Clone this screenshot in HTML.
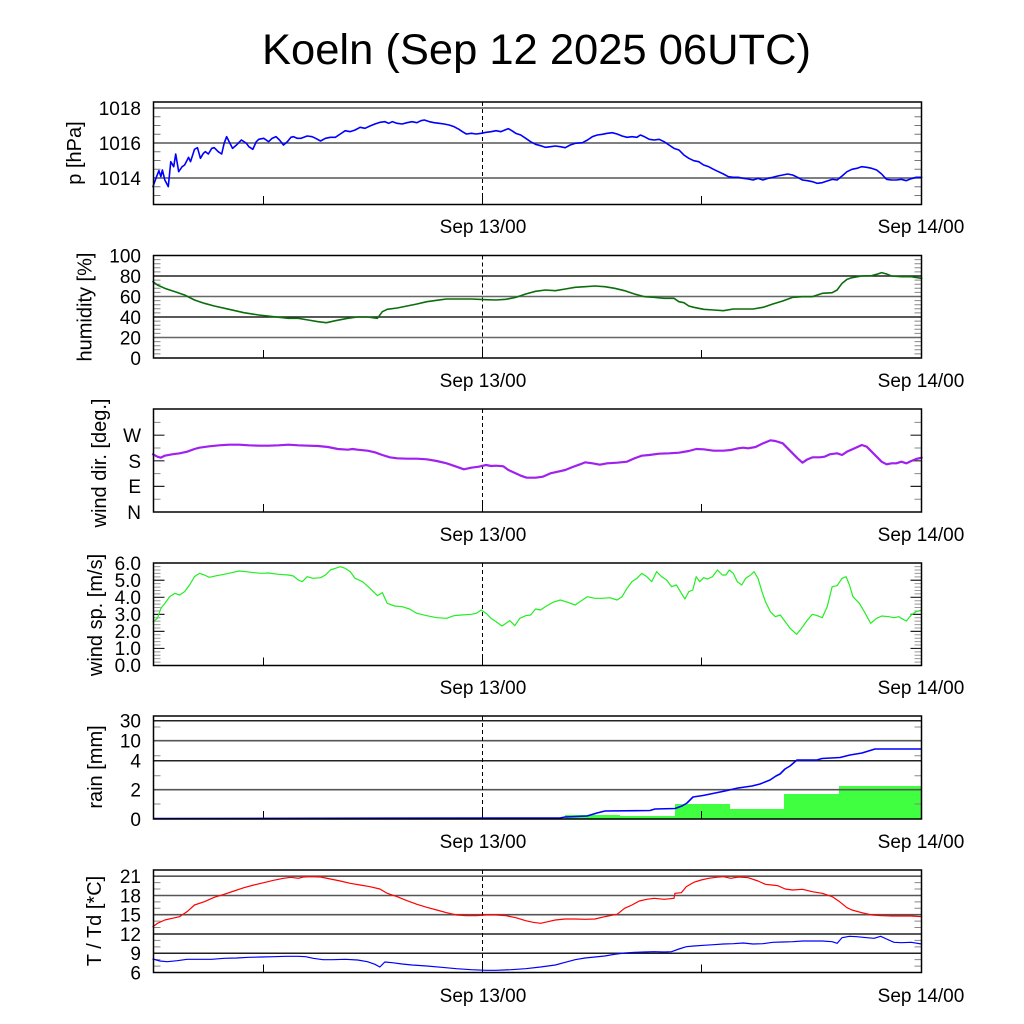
<!DOCTYPE html>
<html><head><meta charset="utf-8">
<style>
html,body{margin:0;padding:0;background:#fff;}
svg{display:block;}
text{font-family:"Liberation Sans",Arial,sans-serif;fill:#000;}
.yl{font-size:19px;text-anchor:end;}
.xl{font-size:19px;text-anchor:middle;}
.al{font-size:20px;text-anchor:middle;}
.c{fill:none;vector-effect:non-scaling-stroke;stroke-linejoin:round;stroke-linecap:round;}
</style></head>
<body>
<svg width="1024" height="1024" viewBox="0 0 1024 1024" xmlns="http://www.w3.org/2000/svg">
<rect width="1024" height="1024" fill="#fff"/>
<text x="262" y="64" font-size="43" textLength="549" lengthAdjust="spacingAndGlyphs">Koeln (Sep 12 2025 06UTC)</text>

<!-- ===== Panel 1: pressure ===== -->
<g>
<path d="M153.5 108H921.5M153.5 143H921.5M153.5 178H921.5" stroke="#555" stroke-width="1.6"/>
<path d="M153.5 116.75h7M153.5 125.5h7M153.5 134.25h7M153.5 151.75h7M153.5 160.5h7M153.5 169.25h7M153.5 186.75h7M153.5 195.5h7M921.5 116.75h-7M921.5 125.5h-7M921.5 134.25h-7M921.5 151.75h-7M921.5 160.5h-7M921.5 169.25h-7M921.5 186.75h-7M921.5 195.5h-7" stroke="#777" stroke-width="1"/>
<path d="M263.5 204v-8M701.5 204v-8M482.5 204v-8" stroke="#000" stroke-width="1"/>
<path d="M482.5 102V204" stroke="#000" stroke-width="1" stroke-dasharray="4 3"/>
<g transform="translate(150,100) scale(0.49432,0.33333)">
<polyline class="c" stroke="#0000ff" stroke-width="1.6" points="6,260 12,235 18,212 22,230 25,210 30,240 37,260 42,185 48,200 52,162 58,215 65,200 70,195 78,172 82,185 90,148 96,143 102,175 108,160 112,155 118,162 125,145 130,143 138,155 145,162 150,130 155,110 160,125 167,145 175,135 185,120 195,130 200,140 208,148 215,125 220,118 230,115 235,120 240,125 247,115 255,110 262,120 270,135 278,125 285,112 290,110 298,115 305,115 318,108 328,110 335,115 345,123 355,115 365,112 375,112 385,102 395,92 405,95 415,90 425,82 435,85 445,78 455,72 465,67 475,65 483,70 490,65 500,70 510,72 520,68 530,65 540,68 548,62 555,60 565,65 575,68 585,70 595,72 605,75 615,80 625,88 632,95 640,102 650,100 660,102 670,100 680,97 690,95 700,92 710,95 718,90 725,86 732,92 740,100 750,105 760,115 770,125 780,133 790,137 800,142 810,140 820,138 830,140 840,143 850,135 860,130 875,128 885,120 895,110 905,105 915,103 925,100 935,98 945,102 955,108 965,112 975,110 985,112 992,105 1000,110 1010,118 1020,120 1030,118 1040,125 1050,135 1060,145 1070,150 1080,165 1090,175 1100,182 1110,185 1120,195 1130,200 1140,208 1150,215 1160,222 1170,230 1180,232 1190,232 1200,235 1210,237 1220,240 1230,235 1240,240 1250,235 1260,232 1270,228 1280,225 1290,222 1300,225 1310,232 1320,240 1330,242 1340,245 1350,250 1360,248 1370,243 1380,238 1390,240 1400,228 1410,215 1420,208 1430,205 1440,200 1450,202 1460,205 1470,210 1480,222 1490,238 1500,240 1510,240 1520,238 1530,242 1540,236 1550,232 1561,232"/>
</g>
<rect x="153.5" y="102" width="768" height="102.5" fill="none" stroke="#000" stroke-width="1.5"/>
<text class="yl" x="141" y="115">1018</text>
<text class="yl" x="141" y="150">1016</text>
<text class="yl" x="141" y="185">1014</text>
<text class="al" transform="translate(81,153) rotate(-90)">p [hPa]</text>
<text class="xl" x="483" y="233">Sep 13/00</text>
<text class="xl" x="921" y="233">Sep 14/00</text>
</g>

<!-- ===== Panel 2: humidity ===== -->
<g>
<path d="M153.5 276H921.5M153.5 317H921.5" stroke="#222" stroke-width="1.5"/>
<path d="M153.5 296.5H921.5M153.5 337.5H921.5" stroke="#666" stroke-width="1.6"/>
<path d="M153.5 353.9h7M153.5 349.8h7M153.5 345.7h7M153.5 341.6h7M153.5 333.4h7M153.5 329.3h7M153.5 325.2h7M153.5 321.1h7M153.5 312.9h7M153.5 308.8h7M153.5 304.7h7M153.5 300.6h7M153.5 292.4h7M153.5 288.3h7M153.5 284.2h7M153.5 280.1h7M153.5 271.9h7M153.5 267.8h7M153.5 263.7h7M153.5 259.6h7M921.5 353.9h-7M921.5 349.8h-7M921.5 345.7h-7M921.5 341.6h-7M921.5 333.4h-7M921.5 329.3h-7M921.5 325.2h-7M921.5 321.1h-7M921.5 312.9h-7M921.5 308.8h-7M921.5 304.7h-7M921.5 300.6h-7M921.5 292.4h-7M921.5 288.3h-7M921.5 284.2h-7M921.5 280.1h-7M921.5 271.9h-7M921.5 267.8h-7M921.5 263.7h-7M921.5 259.6h-7" stroke="#888" stroke-width="1"/>
<path d="M263.5 358v-8M701.5 358v-8M482.5 358v-8" stroke="#000" stroke-width="1"/>
<path d="M482.5 255.5V358" stroke="#000" stroke-width="1" stroke-dasharray="4 3"/>
<g transform="translate(150,100) scale(0.49432,0.33333)">
<polyline class="c" stroke="#0b6e0b" stroke-width="1.6" points="6,545 15,555 30,565 50,575 70,585 90,600 110,610 130,618 160,628 190,638 220,645 250,650 280,655 300,655 320,660 340,665 357,668 375,662 400,655 420,651 440,651 460,655 470,635 480,628 500,624 520,618 540,612 560,605 580,601 600,597 620,597 650,597 680,599 700,600 720,598 740,592 760,582 780,574 800,570 820,572 840,567 860,562 880,560 900,558 920,560 940,565 960,572 980,582 1000,590 1020,592 1040,595 1060,595 1070,605 1080,608 1090,618 1100,622 1120,628 1140,630 1160,632 1180,627 1200,627 1220,627 1240,622 1260,612 1280,603 1300,592 1320,590 1340,590 1350,585 1360,580 1380,578 1390,570 1400,550 1410,538 1420,533 1440,528 1460,527 1470,523 1480,518 1490,522 1500,528 1520,530 1540,530 1561,535"/>
</g>
<rect x="153.5" y="255.5" width="768" height="102.5" fill="none" stroke="#000" stroke-width="1.5"/>
<text class="yl" x="141" y="262.5">100</text>
<text class="yl" x="141" y="283">80</text>
<text class="yl" x="141" y="303.5">60</text>
<text class="yl" x="141" y="324">40</text>
<text class="yl" x="141" y="344.5">20</text>
<text class="yl" x="141" y="365">0</text>
<text class="al" transform="translate(91.5,307) rotate(-90)">humidity [%]</text>
<text class="xl" x="483" y="387">Sep 13/00</text>
<text class="xl" x="921" y="387">Sep 14/00</text>
</g>

<!-- ===== Panel 3: wind direction ===== -->
<g>
<path d="M153.5 499.2h7M153.5 473.6h7M153.5 448h7M153.5 422.4h7M921.5 499.2h-7M921.5 473.6h-7M921.5 448h-7M921.5 422.4h-7" stroke="#888" stroke-width="1"/>
<path d="M153.5 486.4h11M153.5 460.8h11M153.5 435.2h11M921.5 486.4h-11M921.5 460.8h-11M921.5 435.2h-11" stroke="#222" stroke-width="1.2"/>
<path d="M263.5 512v-8M701.5 512v-8M482.5 512v-8" stroke="#000" stroke-width="1"/>
<path d="M482.5 409V512" stroke="#000" stroke-width="1" stroke-dasharray="4 3"/>
<g transform="translate(150,405) scale(0.49432,0.33333)">
<polyline class="c" stroke="#a020f0" stroke-width="2.2" points="6,148 15,155 22,158 30,152 45,148 60,145 75,140 90,132 100,128 120,124 140,121 160,119 180,119 200,121 220,122 240,122 260,121 280,119 300,121 320,122 340,123 360,126 380,132 400,134 410,132 420,134 440,137 455,142 470,150 485,157 500,160 520,161 540,161 560,163 580,168 600,175 620,185 635,193 650,188 665,185 680,180 690,183 700,182 715,184 725,195 740,205 750,212 762,218 780,218 795,215 810,205 825,200 840,195 855,186 870,178 880,172 895,175 910,179 925,175 945,173 965,170 980,160 995,152 1010,150 1030,146 1050,145 1070,143 1090,138 1105,132 1120,133 1140,137 1160,137 1175,135 1190,130 1200,128 1210,130 1225,126 1240,115 1255,106 1265,108 1280,115 1290,130 1300,145 1310,160 1320,173 1330,163 1340,157 1355,157 1365,155 1375,148 1390,145 1400,150 1410,140 1425,130 1440,120 1450,125 1460,140 1470,155 1480,170 1490,178 1500,175 1510,175 1520,170 1530,175 1540,168 1550,162 1561,158"/>
</g>
<rect x="153.5" y="409" width="768" height="103" fill="none" stroke="#000" stroke-width="1.5"/>
<text class="yl" x="141" y="442">W</text>
<text class="yl" x="141" y="468">S</text>
<text class="yl" x="141" y="493">E</text>
<text class="yl" x="141" y="519">N</text>
<text class="al" transform="translate(106,463) rotate(-90)">wind dir. [deg.]</text>
<text class="xl" x="483" y="541">Sep 13/00</text>
<text class="xl" x="921" y="541">Sep 14/00</text>
</g>

<!-- ===== Panel 4: wind speed ===== -->
<g>
<path d="M153.5 662.09h7M153.5 658.68h7M153.5 655.27h7M153.5 651.86h7M153.5 645.04h7M153.5 641.63h7M153.5 638.22h7M153.5 634.81h7M153.5 627.99h7M153.5 624.58h7M153.5 621.17h7M153.5 617.76h7M153.5 610.94h7M153.5 607.53h7M153.5 604.12h7M153.5 600.71h7M153.5 593.89h7M153.5 590.48h7M153.5 587.07h7M153.5 583.66h7M153.5 576.84h7M153.5 573.43h7M153.5 570.02h7M153.5 566.61h7M921.5 662.09h-7M921.5 658.68h-7M921.5 655.27h-7M921.5 651.86h-7M921.5 645.04h-7M921.5 641.63h-7M921.5 638.22h-7M921.5 634.81h-7M921.5 627.99h-7M921.5 624.58h-7M921.5 621.17h-7M921.5 617.76h-7M921.5 610.94h-7M921.5 607.53h-7M921.5 604.12h-7M921.5 600.71h-7M921.5 593.89h-7M921.5 590.48h-7M921.5 587.07h-7M921.5 583.66h-7M921.5 576.84h-7M921.5 573.43h-7M921.5 570.02h-7M921.5 566.61h-7" stroke="#999" stroke-width="1"/>
<path d="M153.5 648.45h11M153.5 631.4h11M153.5 614.35h11M153.5 597.3h11M153.5 580.25h11M921.5 648.45h-11M921.5 631.4h-11M921.5 614.35h-11M921.5 597.3h-11M921.5 580.25h-11" stroke="#222" stroke-width="1.2"/>
<path d="M263.5 665.5v-8M701.5 665.5v-8M482.5 665.5v-8" stroke="#000" stroke-width="1"/>
<path d="M482.5 563V665.5" stroke="#000" stroke-width="1" stroke-dasharray="4 3"/>
<g transform="translate(150,405) scale(0.49432,0.33333)">
<polyline class="c" stroke="#22ee22" stroke-width="1.2" points="6,650 15,640 22,610 30,595 40,575 50,565 60,570 70,560 80,540 90,515 100,505 110,510 120,517 135,512 150,508 165,503 180,498 195,500 210,503 225,505 240,504 260,508 280,510 290,513 300,525 308,530 318,515 330,520 345,518 355,510 365,495 375,490 385,485 395,490 405,500 415,520 430,530 445,550 460,572 470,563 480,595 495,603 510,605 525,612 540,625 560,632 580,638 600,640 615,632 630,630 650,628 660,625 670,615 680,625 690,640 700,650 712,663 720,655 728,647 738,662 748,640 760,632 770,630 780,612 790,615 800,605 815,592 830,585 845,592 860,600 870,590 885,575 900,580 915,580 930,578 945,585 955,575 965,550 975,530 985,520 995,505 1005,515 1015,530 1025,500 1035,515 1045,525 1055,545 1065,540 1075,565 1082,582 1090,560 1098,555 1105,515 1112,530 1120,518 1128,522 1138,515 1148,495 1158,510 1165,510 1172,495 1180,505 1188,530 1197,540 1205,520 1215,510 1222,500 1230,520 1238,560 1245,590 1255,620 1265,635 1275,630 1285,650 1295,670 1308,688 1318,670 1330,645 1340,628 1350,632 1360,638 1370,605 1380,545 1390,542 1400,520 1408,515 1415,540 1422,575 1435,595 1445,620 1458,655 1470,640 1480,633 1495,635 1505,638 1515,635 1520,640 1530,648 1540,630 1550,620 1561,615"/>
</g>
<rect x="153.5" y="563" width="768" height="102.5" fill="none" stroke="#000" stroke-width="1.5"/>
<text class="yl" x="141" y="570">6.0</text>
<text class="yl" x="141" y="587">5.0</text>
<text class="yl" x="141" y="604">4.0</text>
<text class="yl" x="141" y="621">3.0</text>
<text class="yl" x="141" y="638">2.0</text>
<text class="yl" x="141" y="655">1.0</text>
<text class="yl" x="141" y="672">0.0</text>
<text class="al" transform="translate(102,615) rotate(-90)">wind sp. [m/s]</text>
<text class="xl" x="483" y="694">Sep 13/00</text>
<text class="xl" x="921" y="694">Sep 14/00</text>
</g>

<!-- ===== Panel 5: rain ===== -->
<g>
<rect x="565" y="815" width="55" height="4" fill="#40ff40"/>
<rect x="620" y="816" width="55" height="3" fill="#40ff40"/>
<rect x="675" y="804" width="55" height="15" fill="#40ff40"/>
<rect x="730" y="809" width="54" height="10" fill="#40ff40"/>
<rect x="784" y="794" width="55" height="25" fill="#40ff40"/>
<rect x="839" y="786" width="82.5" height="33" fill="#40ff40"/>
<path d="M153.5 720.7H921.5M153.5 760.7H921.5" stroke="#222" stroke-width="1.5"/>
<path d="M153.5 740.7H921.5M153.5 789.7H921.5" stroke="#555" stroke-width="1.6"/>
<path d="M153.5 727h7M153.5 755.7h7M153.5 775.7h7M153.5 804h7M921.5 727h-7M921.5 755.7h-7M921.5 775.7h-7M921.5 804h-7" stroke="#888" stroke-width="1"/>
<path d="M263.5 819v-8M701.5 819v-8M482.5 819v-8" stroke="#000" stroke-width="1"/>
<path d="M482.5 716V819" stroke="#000" stroke-width="1" stroke-dasharray="4 3"/>
<polyline fill="none" stroke="#0000ff" stroke-width="1.6" stroke-linejoin="round" points="153.5,818.5 560,818 565,817 587,816 597,813 605,811 650,810.5 655,809 675,808.5 682,806 687,803 693,797 703,795.5 725,791 738,788 752,786 760,784 770,780 776,776 780,774 785,769 790,766 797,760 817,760 822,758.5 840,757.5 850,755 862,753 875,749 921.5,749"/>
<rect x="153.5" y="716" width="768" height="103" fill="none" stroke="#000" stroke-width="1.5"/>
<text class="yl" x="141" y="727.7">30</text>
<text class="yl" x="141" y="747.7">10</text>
<text class="yl" x="141" y="767.7">4</text>
<text class="yl" x="141" y="796.7">2</text>
<text class="yl" x="141" y="826">0</text>
<text class="al" transform="translate(102,767) rotate(-90)">rain [mm]</text>
<text class="xl" x="483" y="848">Sep 13/00</text>
<text class="xl" x="921" y="848">Sep 14/00</text>
</g>

<!-- ===== Panel 6: T / Td ===== -->
<g>
<path d="M153.5 876.2H921.5M153.5 895.5H921.5M153.5 914.7H921.5" stroke="#555" stroke-width="1.6"/>
<path d="M153.5 934H921.5M153.5 953.24H921.5" stroke="#222" stroke-width="1.5"/>
<path d="M153.5 966.08h7M153.5 959.66h7M153.5 946.82h7M153.5 940.4h7M153.5 927.56h7M153.5 921.14h7M153.5 908.3h7M153.5 901.88h7M153.5 889.04h7M153.5 882.62h7M921.5 966.08h-7M921.5 959.66h-7M921.5 946.82h-7M921.5 940.4h-7M921.5 927.56h-7M921.5 921.14h-7M921.5 908.3h-7M921.5 901.88h-7M921.5 889.04h-7M921.5 882.62h-7" stroke="#888" stroke-width="1"/>
<path d="M263.5 972.5v-8M701.5 972.5v-8M482.5 972.5v-8" stroke="#000" stroke-width="1"/>
<path d="M482.5 870V972.5" stroke="#000" stroke-width="1" stroke-dasharray="4 3"/>
<g transform="translate(150,865) scale(0.49432,0.33333)">
<polyline class="c" stroke="#ff0000" stroke-width="1.2" points="6,185 15,175 30,165 45,160 60,155 75,140 90,120 110,110 130,97 150,88 170,78 190,68 210,60 230,53 250,46 270,40 285,37 300,40 310,36 325,35 345,36 365,42 385,48 405,55 425,60 445,65 465,72 480,85 500,95 520,107 540,118 560,127 580,135 600,143 620,150 640,152 660,152 680,150 700,150 720,152 740,158 760,167 775,172 790,175 805,170 820,165 840,162 860,162 880,163 900,162 920,155 945,148 960,130 975,120 990,108 1005,103 1020,100 1040,103 1060,100 1062,85 1075,83 1085,65 1100,52 1115,45 1130,40 1145,37 1160,35 1175,40 1190,36 1210,38 1230,48 1245,58 1258,60 1270,62 1285,72 1300,75 1320,73 1340,80 1360,85 1380,95 1395,110 1410,128 1420,135 1440,143 1460,150 1480,152 1500,153 1520,153 1540,153 1561,155"/>
<polyline class="c" stroke="#0000ff" stroke-width="1.2" points="6,282 20,288 35,290 55,287 75,283 100,283 125,283 150,280 175,279 200,277 225,276 250,275 275,274 300,274 315,275 330,280 350,284 370,284 395,283 420,285 440,290 455,298 465,306 475,291 490,293 510,297 530,300 560,303 590,307 620,311 650,314 680,316 700,316 730,314 760,311 790,306 820,300 840,292 860,284 880,279 900,276 920,273 940,268 960,264 980,262 1000,261 1020,260 1040,261 1055,260 1070,252 1085,245 1100,243 1120,241 1140,239 1160,237 1180,236 1200,234 1220,237 1240,236 1260,232 1280,231 1300,230 1320,228 1340,228 1360,228 1380,230 1390,235 1400,218 1415,214 1430,215 1450,218 1465,220 1478,214 1490,222 1505,232 1520,233 1540,232 1561,237"/>
</g>
<rect x="153.5" y="870" width="768" height="102.5" fill="none" stroke="#000" stroke-width="1.5"/>
<text class="yl" x="141" y="883">21</text>
<text class="yl" x="141" y="902.5">18</text>
<text class="yl" x="141" y="921.7">15</text>
<text class="yl" x="141" y="941">12</text>
<text class="yl" x="141" y="960.2">9</text>
<text class="yl" x="141" y="979.5">6</text>
<text class="al" transform="translate(101,921) rotate(-90)">T / Td [*C]</text>
<text class="xl" x="483" y="1002">Sep 13/00</text>
<text class="xl" x="921" y="1002">Sep 14/00</text>
</g>
</svg>
</body></html>
